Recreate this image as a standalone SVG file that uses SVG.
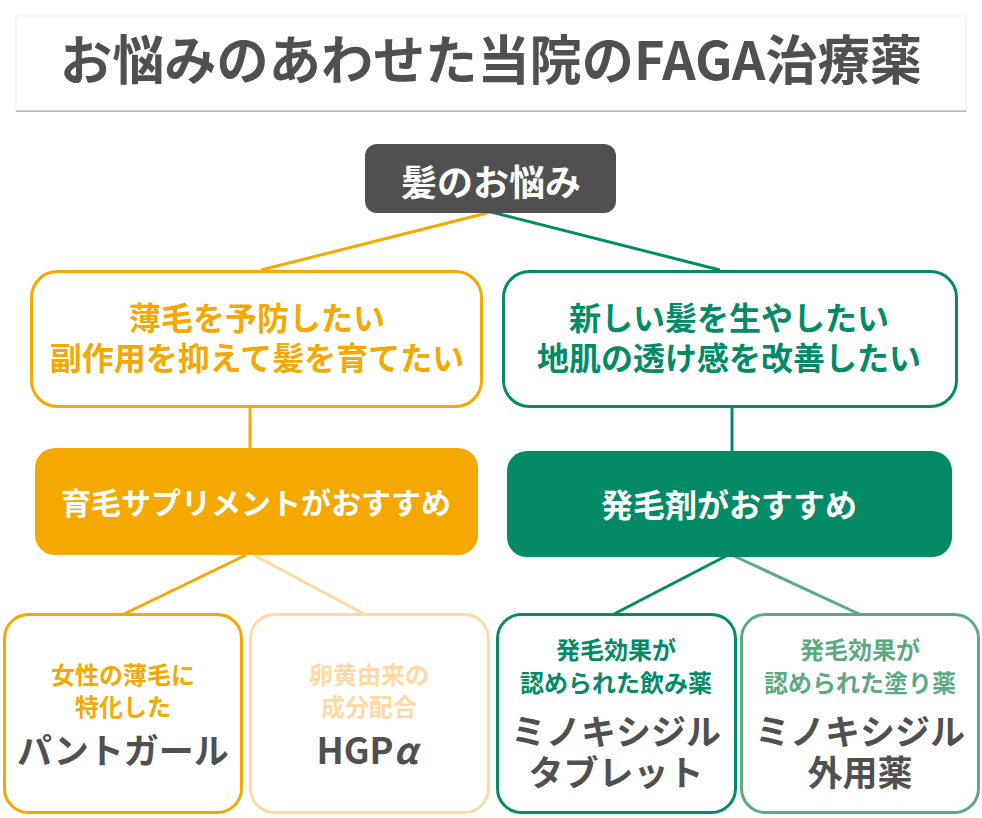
<svg xmlns="http://www.w3.org/2000/svg" width="982" height="818" viewBox="0 0 982 818">
<style>
text{font-family:"Noto Sans CJK JP","Noto Sans",sans-serif;font-weight:bold;text-anchor:middle}
.or{fill:#F5A800}.gr{fill:#038B67}.lo{fill:#FFD9A3}.lg{fill:#5CAA83}.dk{fill:#505050}.wh{fill:#fff}
.conn line{stroke-width:3;fill:none}
</style>
<rect width="982" height="818" fill="#fff"/>
<g id="title">
<rect x="16" y="18" width="950" height="94" fill="#b4b4b4"/>
<rect x="16" y="16" width="950" height="94" fill="#fff" stroke="#eeeeee" stroke-width="1"/>
<text x="491" y="80" font-size="53" class="dk" textLength="862" lengthAdjust="spacingAndGlyphs">お悩みのあわせた当院のFAGA治療薬</text>
</g>
<g class="conn" id="connectors">
<line x1="491" y1="212" x2="261" y2="270" stroke="#F5A800"/>
<line x1="491" y1="212" x2="720" y2="270" stroke="#038B67"/>
<line x1="250" y1="407" x2="250" y2="449" stroke="#F5A800"/>
<line x1="732" y1="407" x2="732" y2="452" stroke="#038B67"/>
<line x1="246" y1="555" x2="124" y2="614" stroke="#F5A800"/>
<line x1="254" y1="555" x2="364" y2="614" stroke="#FFD9A3"/>
<line x1="726" y1="556" x2="614" y2="614" stroke="#038B67"/>
<line x1="734" y1="556" x2="859" y2="614" stroke="#5CAA83"/>
</g>
<g id="root">
<rect x="365" y="144" width="251" height="69" rx="12" fill="#505050"/>
<text x="491" y="196" font-size="36" class="wh">髪のお悩み</text>
</g>
<g id="need-left">
<rect x="31.5" y="271.5" width="450" height="135" rx="26" fill="#fff" stroke="#F5A800" stroke-width="3"/>
<text x="257" y="330" font-size="32" class="or">薄毛を予防したい</text>
<text x="257" y="370" font-size="32" class="or">副作用を抑えて髪を育てたい</text>
</g>
<g id="need-right">
<rect x="503.5" y="271.5" width="453" height="135" rx="26" fill="#fff" stroke="#038B67" stroke-width="3"/>
<text x="729" y="330" font-size="32" class="gr">新しい髪を生やしたい</text>
<text x="729" y="370" font-size="32" class="gr">地肌の透け感を改善したい</text>
</g>
<g id="rec-left">
<rect x="35" y="448" width="443" height="107" rx="20" fill="#F5A800"/>
<text x="256" y="514" font-size="30" class="wh">育毛サプリメントがおすすめ</text>
</g>
<g id="rec-right">
<rect x="507" y="451" width="445" height="106" rx="20" fill="#038B67"/>
<text x="729" y="517" font-size="32" class="wh">発毛剤がおすすめ</text>
</g>
<g id="pantogar">
<rect x="4.5" y="614.5" width="237" height="198" rx="24" fill="#fff" stroke="#F5A800" stroke-width="3"/>
<text x="123" y="684" font-size="24" class="or">女性の薄毛に</text>
<text x="123" y="716" font-size="24" class="or">特化した</text>
<text x="123" y="764" font-size="35" class="dk">パントガール</text>
</g>
<g id="hgp">
<rect x="250.5" y="614.5" width="238" height="198" rx="24" fill="#fff" stroke="#FFD9A3" stroke-width="3"/>
<text x="369" y="684" font-size="24" class="lo">卵黄由来の</text>
<text x="369" y="716" font-size="24" class="lo">成分配合</text>
<text x="367" y="764" font-size="36" class="dk">HGP<tspan font-style="italic">α</tspan></text>
</g>
<g id="minoxidil-tablet">
<rect x="497.5" y="614.5" width="238" height="198" rx="24" fill="#fff" stroke="#038B67" stroke-width="3"/>
<text x="616" y="659" font-size="24" class="gr">発毛効果が</text>
<text x="616" y="692" font-size="24" class="gr">認められた飲み薬</text>
<text x="616" y="745" font-size="35" class="dk">ミノキシジル</text>
<text x="616" y="786" font-size="35" class="dk">タブレット</text>
</g>
<g id="minoxidil-topical">
<rect x="741.5" y="614.5" width="237" height="198" rx="24" fill="#fff" stroke="#5CAA83" stroke-width="3"/>
<text x="860" y="659" font-size="24" class="lg">発毛効果が</text>
<text x="860" y="692" font-size="24" class="lg">認められた塗り薬</text>
<text x="860" y="745" font-size="35" class="dk">ミノキシジル</text>
<text x="860" y="786" font-size="35" class="dk">外用薬</text>
</g>
</svg>
